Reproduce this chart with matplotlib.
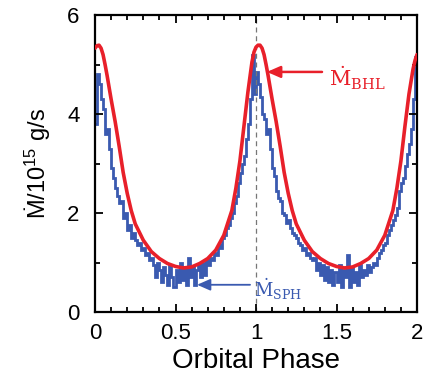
import numpy as np
import matplotlib
matplotlib.use("Agg")
import matplotlib.pyplot as plt
from matplotlib.ticker import MultipleLocator

plt.rcParams['font.family'] = ['Liberation Sans', 'DejaVu Sans']
plt.rcParams['mathtext.fontset'] = 'custom'
plt.rcParams['mathtext.rm'] = 'Liberation Sans'
plt.rcParams['mathtext.it'] = 'Liberation Sans:italic'
plt.rcParams['mathtext.bf'] = 'Liberation Sans:bold'

# --- data ---
# Smooth BHL accretion rate (red)
bhl_phase = [0.000, 0.0125, 0.025, 0.0375, 0.050, 0.0625, 0.075, 0.100, 0.125, 0.150,
             0.175, 0.200, 0.225, 0.250, 0.300, 0.350, 0.400, 0.450, 0.500, 0.550,
             0.600, 0.650, 0.700, 0.750, 0.800, 0.850, 0.875, 0.900, 0.925, 0.950,
             0.9625, 0.975, 0.9875, 1.000, 1.0125, 1.025, 1.0375, 1.050, 1.0625, 1.075,
             1.100, 1.125, 1.150, 1.175, 1.200, 1.225, 1.250, 1.300, 1.350, 1.400,
             1.450, 1.500, 1.550, 1.600, 1.650, 1.700, 1.750, 1.800, 1.850, 1.875,
             1.900, 1.925, 1.950, 1.9625, 1.975, 1.9875, 2.000]
bhl_value = [5.33, 5.38, 5.39, 5.33, 5.20, 5.00, 4.78, 4.30, 3.85, 3.35,
             2.82, 2.40, 2.05, 1.78, 1.45, 1.22, 1.08, 0.98, 0.92, 0.89,
             0.91, 0.98, 1.08, 1.25, 1.55, 2.05, 2.50, 3.05, 3.75, 4.45,
             4.75, 5.05, 5.25, 5.35, 5.39, 5.39, 5.33, 5.20, 5.00, 4.78,
             4.30, 3.85, 3.35, 2.82, 2.40, 2.05, 1.78, 1.45, 1.22, 1.08,
             0.98, 0.92, 0.89, 0.91, 0.98, 1.08, 1.25, 1.55, 2.05, 2.50,
             3.05, 3.75, 4.40, 4.65, 4.90, 5.08, 5.20]

# SPH accretion rate histogram (blue), bins of width 0.0125 in phase
sph_orbit1 = [3.8, 4.8, 4.6, 4.3, 4.1, 3.6, 3.7, 3.3, 2.9, 2.7,
              2.5, 2.35, 2.2, 2.25, 1.9, 2.0, 1.65, 1.75, 1.5, 1.6,
              1.45, 1.35, 1.4, 1.25, 1.3, 1.15, 1.2, 1.05, 1.1, 0.95,
              0.7, 1.0, 0.85, 0.6, 0.9, 0.75, 0.55, 0.95, 0.7, 0.5,
              0.85, 0.6, 1.0, 0.65, 0.9, 0.55, 1.1, 0.7, 0.9, 0.55,
              0.85, 0.95, 0.7, 1.0, 0.75, 1.05, 0.95, 1.1, 1.05, 1.2,
              1.15, 1.35, 1.3, 1.5, 1.55, 1.7, 1.75, 1.9, 2.0, 2.2,
              2.35, 2.6, 2.8, 3.0, 3.15, 3.5, 3.8, 4.3, 5.2, 4.4]
sph_orbit2 = [4.85, 4.6, 4.35, 4.0, 3.9, 3.6, 3.7, 3.3, 2.9, 2.75,
              2.45, 2.3, 2.25, 2.0, 1.95, 1.8, 1.85, 1.7, 1.6, 1.55,
              1.5, 1.4, 1.35, 1.25, 1.3, 1.15, 1.2, 1.1, 1.05, 1.1,
              0.85, 1.0, 0.75, 0.95, 0.65, 0.9, 0.6, 0.85, 0.55, 0.8,
              0.6, 0.95, 0.5, 0.85, 0.7, 1.15, 0.5, 0.9, 0.6, 0.8,
              0.55, 0.95, 0.7, 0.85, 0.75, 0.95, 0.8, 0.9, 1.0, 0.95,
              1.1, 1.2, 1.25, 1.35, 1.4, 1.55, 1.65, 1.75, 1.85, 1.95,
              2.1, 2.45, 2.6, 2.7, 2.95, 3.2, 3.4, 3.7, 4.3, 5.15]
sph_bin_width = 0.0125

x_ticks = [0, 0.5, 1, 1.5, 2]
x_tick_labels = ["0", "0.5", "1", "1.5", "2"]
y_ticks = [0, 2, 4, 6]
y_tick_labels = ["0", "2", "4", "6"]

RED = "#e8202a"
BLUE = "#3a5ab0"

fig = plt.figure(figsize=(4.29, 3.79), dpi=100)
ax = fig.add_axes([95/429, 1-312/379, (417-95)/429, (312-15)/379])

sph = np.array(sph_orbit1 + sph_orbit2)
edges = np.arange(len(sph) + 1) * sph_bin_width
ax.stairs(sph, edges, color=BLUE, lw=2.0, baseline=None)

ax.axvline(1.0, color="#777777", lw=0.9, ls=(0, (4, 3)), zorder=1)

ax.plot(bhl_phase, bhl_value, color=RED, lw=2.6, solid_capstyle='round',
        solid_joinstyle='round', zorder=5)

ax.set_xlim(0, 2)
ax.set_ylim(0, 6)
ax.set_xticks(x_ticks)
ax.set_xticklabels(x_tick_labels)
ax.set_yticks(y_ticks)
ax.set_yticklabels(y_tick_labels)
ax.xaxis.set_minor_locator(MultipleLocator(0.1))
ax.yaxis.set_minor_locator(MultipleLocator(1))
ax.tick_params(which='both', direction='in', top=True, right=True, width=1.3,
               labelsize=16, colors='black')
ax.tick_params(which='major', length=6)
ax.tick_params(which='minor', length=3.5)
ax.tick_params(axis='x', which='major', pad=8)
ax.tick_params(axis='y', which='major', pad=11)
for s in ax.spines.values():
    s.set_linewidth(1.6)

ax.set_xlabel("Orbital Phase", fontsize=20, labelpad=3)
ax.set_ylabel("Ṁ/10$^{15}$ g/s", fontsize=17, labelpad=10)

# annotations
ax.annotate("", xy=(1.068, 4.85), xytext=(1.41, 4.85),
            arrowprops=dict(arrowstyle="-|>,head_length=0.8,head_width=0.35",
                            color=RED, lw=1.8, shrinkA=0, shrinkB=0))
ax.text(1.455, 4.72, r"$\dot{\mathrm{M}}_{\mathrm{BHL}}$", color=RED, fontsize=15,
        math_fontfamily='dejavuserif', va='center', ha='left')

ax.annotate("", xy=(0.634, 0.55), xytext=(0.963, 0.55),
            arrowprops=dict(arrowstyle="-|>,head_length=0.8,head_width=0.35",
                            color=BLUE, lw=1.3, shrinkA=0, shrinkB=0))
ax.text(0.99, 0.45, r"$\dot{\mathrm{M}}_{\mathrm{SPH}}$", color=BLUE, fontsize=13,
        math_fontfamily='dejavuserif', va='center', ha='left')

fig.savefig("out.png", dpi=100)
